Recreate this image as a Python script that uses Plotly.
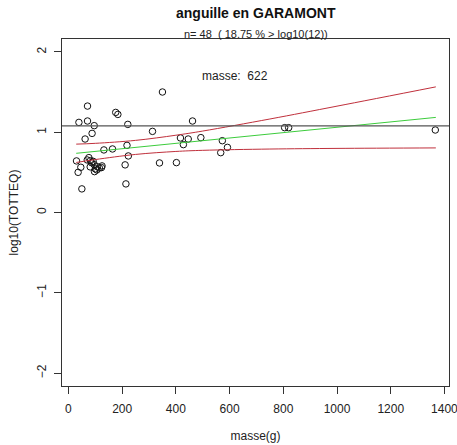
import plotly.graph_objects as go

# scatter data: masse (g) and log10(TOTTEQ)
masse = [350, 71, 176, 184, 39, 71, 96, 221, 462, 88, 313, 62, 417, 446, 493, 573,
         428, 218, 132, 164, 223, 592, 567, 30, 76, 70, 82, 92, 46, 36, 81, 96,
         100, 97, 106, 115, 125, 123, 211, 339, 402, 50, 214, 805, 820, 1366, 86, 108]
log_teq = [1.50, 1.325, 1.246, 1.221, 1.122, 1.139, 1.081, 1.097, 1.139, 0.985, 1.010,
           0.915, 0.928, 0.915, 0.932, 0.894, 0.845, 0.836, 0.779, 0.791, 0.704, 0.811,
           0.745, 0.642, 0.683, 0.654, 0.646, 0.637, 0.563, 0.50, 0.568, 0.596, 0.543,
           0.509, 0.530, 0.555, 0.580, 0.559, 0.593, 0.617, 0.621, 0.294, 0.356, 1.056,
           1.056, 1.027, 0.62, 0.57]

# regression line and confidence band
line_x = [29, 100, 250, 400, 500, 750, 1000, 1368]
fit_y = [0.737, 0.760, 0.810, 0.861, 0.894, 0.977, 1.061, 1.184]
upper_y = [0.851, 0.861, 0.898, 0.962, 1.014, 1.164, 1.324, 1.564]
lower_y = [0.623, 0.659, 0.723, 0.760, 0.774, 0.790, 0.798, 0.804]

threshold = 1.0792  # log10(12)
x_ticks = [0, 200, 400, 600, 800, 1000, 1200, 1400]
y_ticks = [-2, -1, 0, 1, 2]

FONT = "Liberation Sans, Arial, sans-serif"
RED = "#c0303c"
GREEN = "#3ccc3c"

fig = go.Figure()
fig.add_trace(go.Scatter(x=masse, y=log_teq, mode="markers",
                         marker=dict(symbol="circle-open", size=6.5, color="#111",
                                     line=dict(width=1, color="#111")),
                         showlegend=False))
fig.add_trace(go.Scatter(x=line_x, y=upper_y, mode="lines", line=dict(color=RED, width=1),
                         line_shape="spline", showlegend=False))
fig.add_trace(go.Scatter(x=line_x, y=lower_y, mode="lines", line=dict(color=RED, width=1),
                         line_shape="spline", showlegend=False))
fig.add_trace(go.Scatter(x=line_x, y=fit_y, mode="lines", line=dict(color=GREEN, width=1),
                         showlegend=False))

fig.add_shape(type="line", xref="paper", x0=0, x1=1, yref="y", y0=threshold, y1=threshold,
              line=dict(color="#555", width=1.3))

fig.add_annotation(x=622, y=1.70, xref="x", yref="y", text="masse:  622", showarrow=False,
                   font=dict(family=FONT, size=12, color="#222"))
fig.add_annotation(x=0.5, y=1, xref="paper", yref="paper", yanchor="middle", yshift=26,
                   text="<b>anguille en GARAMONT</b>", showarrow=False,
                   font=dict(family=FONT, size=14, color="#111"))
fig.add_annotation(x=0.5, y=1, xref="paper", yref="paper", yanchor="middle", yshift=5,
                   text="n= 48  ( 18.75 % > log10(12))", showarrow=False,
                   font=dict(family=FONT, size=11, color="#222"))

fig.update_layout(
    width=457, height=445,
    margin=dict(l=62, r=8, t=39, b=59),
    paper_bgcolor="white", plot_bgcolor="white",
    font=dict(family=FONT, size=12, color="#222"),
    xaxis=dict(range=[-24, 1417], tickvals=x_ticks, ticks="outside", ticklen=7,
               tickcolor="#333", showgrid=False, zeroline=False, showline=True,
               mirror=True, linecolor="#333", linewidth=1, automargin=False,
               ticklabeloverflow="allow", ticklabelstandoff=5,
               title=dict(text="masse(g)", standoff=16, font=dict(size=12))),
    yaxis=dict(range=[-2.16, 2.16], tickvals=y_ticks, ticks="outside", ticklen=7,
               tickcolor="#333", tickangle=-90, showgrid=False, zeroline=False,
               showline=True, mirror=True, linecolor="#333", linewidth=1, automargin=False,
               ticklabeloverflow="allow", ticklabelstandoff=3,
               title=dict(text="log10(TOTTEQ)", standoff=14, font=dict(size=12))),
)

fig.write_html("out.html", config={"displayModeBar": False},
               post_script="document.body.style.margin='0';document.body.style.overflow='hidden';")
